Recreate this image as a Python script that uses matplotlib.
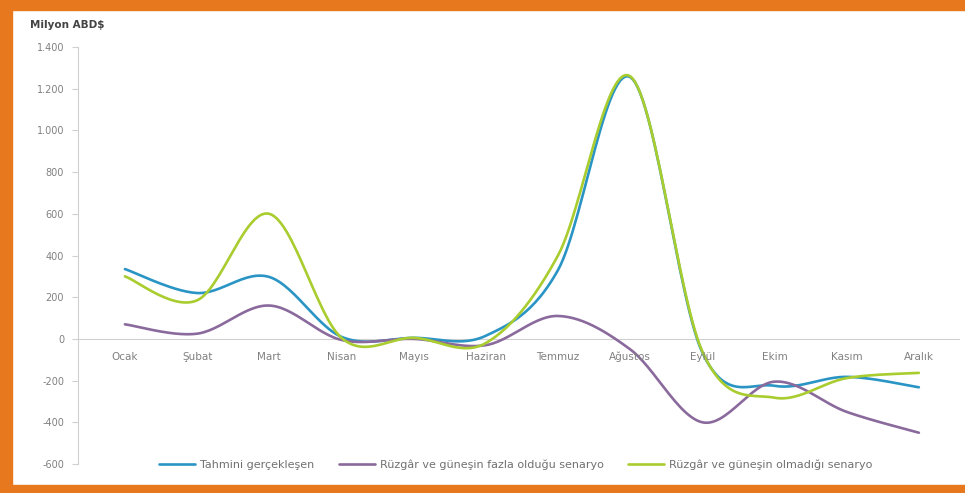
import numpy as np
import matplotlib
matplotlib.use("Agg")
import matplotlib.pyplot as plt
from matplotlib.patches import Rectangle

plt.rcParams['font.family'] = ['DejaVu Sans']

months = ["Ocak", "Şubat", "Mart", "Nisan", "Mayıs", "Haziran",
          "Temmuz", "Ağustos", "Eylül", "Ekim", "Kasım", "Aralık"]

tahmini = [335, 220, 297, 10, 5, 15, 330, 1256, -65, -225, -182, -232]
fazla = [70, 25, 160, -5, 0, -30, 110, -50, -400, -205, -350, -450]
olmadigi = [300, 185, 600, 5, 5, -20, 400, 1260, -60, -282, -188, -163]

series_names = ["Tahmini gerçekleşen",
                "Rüzgâr ve güneşin fazla olduğu senaryo",
                "Rüzgâr ve güneşin olmadığı senaryo"]
series_colors = ["#2a95c4", "#8a6a9c", "#a9cc2e"]

yticks = list(range(-600, 1401, 200))


def smooth(xs, ys, n=30):
    # Catmull-Rom style bezier segments, like spreadsheet "smoothed line"
    p = np.column_stack([xs, ys]).astype(float)
    ext = np.vstack([p[0], p, p[-1]])
    out = []
    t = np.linspace(0, 1, n)[:, None]
    for i in range(len(p) - 1):
        p0, p1, p2, p3 = ext[i], ext[i + 1], ext[i + 2], ext[i + 3]
        c1 = p1 + (p2 - p0) / 6
        c2 = p2 - (p3 - p1) / 6
        seg = ((1 - t) ** 3) * p1 + 3 * ((1 - t) ** 2) * t * c1 \
            + 3 * (1 - t) * t ** 2 * c2 + t ** 3 * p2
        out.append(seg if i == 0 else seg[1:])
    arr = np.vstack(out)
    return arr[:, 0], arr[:, 1]


fig = plt.figure(figsize=(9.65, 4.93), dpi=100)
ax = fig.add_axes([78 / 965, 1 - 464 / 493, (960 - 78) / 965, (464 - 47) / 493])

x = np.arange(len(months))
for vals, name, col in zip([tahmini, fazla, olmadigi], series_names, series_colors):
    sx, sy = smooth(x, vals)
    ax.plot(sx, sy, color=col, lw=1.9, label=name, solid_capstyle='round')

ax.axhline(0, color="#d0d0d0", lw=0.8, zorder=0)
ax.set_xlim(-0.65, 11.57)
ax.set_ylim(-600, 1400)

for s in ["top", "right", "bottom"]:
    ax.spines[s].set_visible(False)
ax.spines["left"].set_color("#d0d0d0")
ax.spines["left"].set_linewidth(0.8)

ax.set_xticks([])
ax.set_yticks(yticks)
ax.set_yticklabels([f"{v:,}".replace(",", ".") for v in yticks],
                   fontsize=7, color="#808080")
ax.tick_params(axis="y", length=4, color="#d0d0d0", pad=6)

for i, m in enumerate(months):
    ax.text(i, -88, m, ha="center", va="center", fontsize=7.5, color="#808080")

fig.text(30 / 965, 1 - 25 / 493, "Milyon ABD$", fontsize=7.5, color="#444444",
         ha="left", va="center", fontweight="bold")

leg = fig.legend(loc="center", bbox_to_anchor=(516 / 965, 1 - 465 / 493), ncol=3,
                 frameon=False, fontsize=8, handlelength=3.2, columnspacing=2.2,
                 handletextpad=0.5)
for t in leg.get_texts():
    t.set_color("#707070")

# orange frame
orange = "#e8781e"
fig.patches.append(Rectangle((0, 0), 12 / 965, 1, transform=fig.transFigure,
                             color=orange, zorder=10))
fig.patches.append(Rectangle((0, 1 - 10 / 493), 1, 10 / 493, transform=fig.transFigure,
                             color=orange, zorder=10))
fig.patches.append(Rectangle((0, 0), 1, 8 / 493, transform=fig.transFigure,
                             color=orange, zorder=10))

fig.savefig("out.png", dpi=100)
